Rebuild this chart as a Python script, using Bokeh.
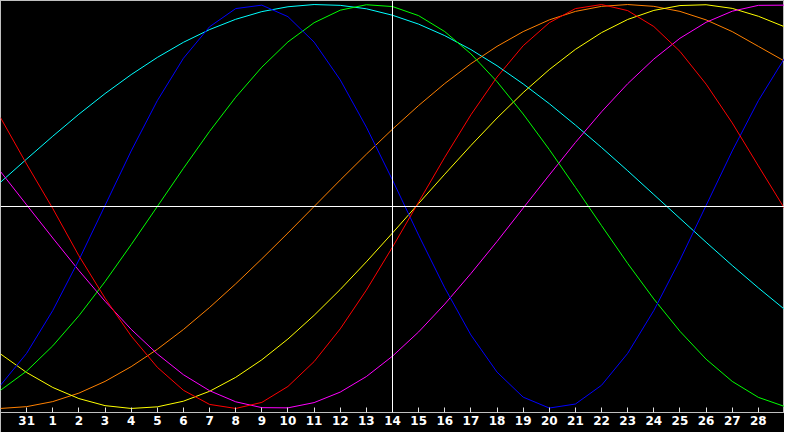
from bokeh.plotting import figure
from bokeh.models import Span, FixedTicker
from bokeh.embed import file_html
from bokeh.resources import INLINE

# day index 0..30, tick labels for days shown on the axis
days = list(range(31))
tick_pos = list(range(1, 30))
tick_labels = ["31"] + [str(d) for d in range(1, 29)]
today = 15

# cycle values (-1 .. 1)
blue = [-0.885, -0.727, -0.515, -0.265, 0.005, 0.275, 0.524, 0.734, 0.890, 0.980,
        0.997, 0.940, 0.814, 0.627, 0.393, 0.131, -0.142, -0.403, -0.636, -0.820,
        -0.944, -0.998, -0.978, -0.885, -0.727, -0.515, -0.265, 0.005, 0.275, 0.524, 0.734]
red = [0.44, 0.21, -0.01, -0.244, -0.454, -0.641, -0.796, -0.910, -0.980, -1.0,
       -0.970, -0.891, -0.768, -0.606, -0.414, -0.201, 0.022, 0.244, 0.454, 0.641,
       0.796, 0.910, 0.980, 1.0, 0.970, 0.891, 0.768, 0.606, 0.414, 0.201, -0.01]
green = [-0.910, -0.815, -0.690, -0.541, -0.372, -0.189, 0.0, 0.189, 0.372, 0.541,
         0.690, 0.815, 0.910, 0.972, 0.999, 0.990, 0.945, 0.866, 0.756, 0.618,
         0.458, 0.282, 0.095, -0.095, -0.282, -0.458, -0.618, -0.756, -0.866, -0.945, -0.990]
magenta = [0.173, 0.008, -0.156, -0.317, -0.469, -0.608, -0.730, -0.833, -0.912, -0.967,
           -0.996, -0.997, -0.971, -0.919, -0.842, -0.741, -0.621, -0.483, -0.332, -0.173,
           -0.008, 0.156, 0.317, 0.469, 0.608, 0.730, 0.833, 0.912, 0.967, 0.996, 0.997]
yellow = [-0.730, -0.822, -0.896, -0.951, -0.986, -1.0, -0.992, -0.964, -0.915, -0.846,
          -0.759, -0.656, -0.539, -0.411, -0.274, -0.131, 0.015, 0.160, 0.302, 0.438,
          0.564, 0.678, 0.778, 0.861, 0.926, 0.971, 0.995, 0.999, 0.981, 0.942, 0.89]
orange = [-1.0, -0.991, -0.966, -0.924, -0.866, -0.793, -0.707, -0.609, -0.5, -0.383,
          -0.259, -0.131, 0.0, 0.131, 0.259, 0.383, 0.5, 0.609, 0.707, 0.793,
          0.866, 0.924, 0.966, 0.991, 1.0, 0.991, 0.966, 0.924, 0.866, 0.793, 0.72]
cyan = [0.12, 0.235, 0.348, 0.457, 0.559, 0.653, 0.738, 0.813, 0.876, 0.927,
        0.965, 0.989, 1.0, 0.996, 0.979, 0.947, 0.903, 0.846, 0.777, 0.697,
        0.607, 0.509, 0.403, 0.292, 0.177, 0.059, -0.059, -0.177, -0.292, -0.403, -0.509]

p = figure(width=784, height=432, x_range=(0, 30), y_range=(-1.02, 1.02),
           output_backend="svg", toolbar_location=None,
           min_border_left=0, min_border_right=0, min_border_top=0, min_border_bottom=20)
p.background_fill_color = "black"
p.border_fill_color = "black"
p.outline_line_color = "#c0c0c0"
p.grid.visible = False
p.yaxis.visible = False

ax = p.xaxis[0]
ax.ticker = FixedTicker(ticks=tick_pos)
ax.major_label_overrides = {t: l for t, l in zip(tick_pos, tick_labels)}
ax.axis_line_color = "#c0c0c0"
ax.major_tick_line_color = "#e0e0e0"
ax.major_tick_in = 5
ax.major_tick_out = 0
ax.minor_tick_line_color = None
ax.major_label_text_color = "white"
ax.major_label_text_font = "DejaVu Sans"
ax.major_label_text_font_style = "bold"
ax.major_label_text_font_size = "12px"
ax.major_label_standoff = 3

p.add_layout(Span(location=0, dimension="width", line_color="white", line_width=1))
p.add_layout(Span(location=today, dimension="height", line_color="white", line_width=1))

for ys, c in [(cyan, "#00ffff"), (orange, "#ff8000"), (yellow, "#ffff00"),
              (magenta, "#ff00ff"), (green, "#00ff00"), (blue, "#0000ff"), (red, "#ff0000")]:
    p.line(days, ys, line_color=c, line_width=1)

open("out.html", "w").write(file_html(p, INLINE))
